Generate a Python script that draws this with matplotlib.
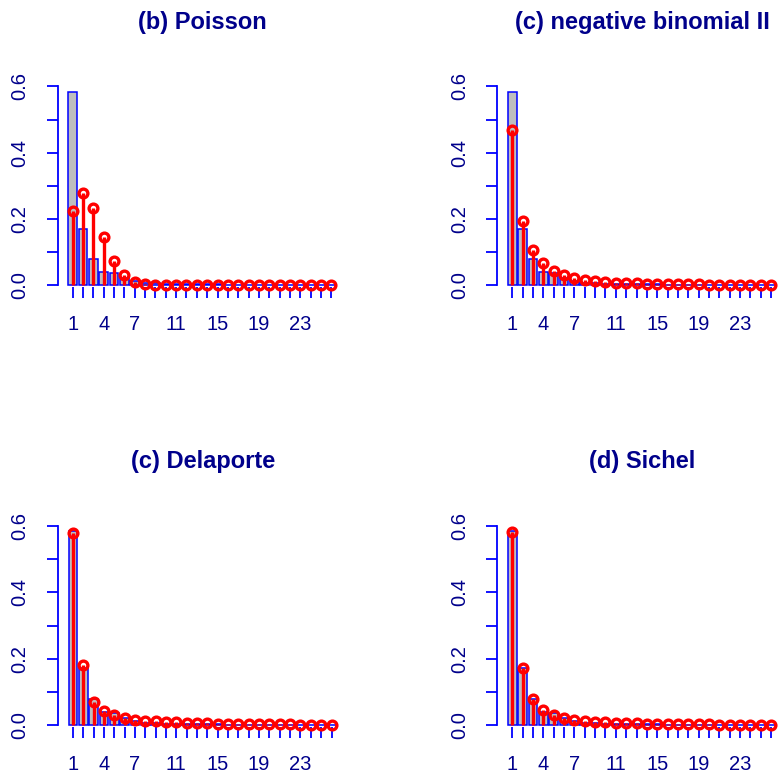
import matplotlib
matplotlib.use("Agg")
import matplotlib.pyplot as plt
import numpy as np

# Observed relative frequencies of the count variable (values 1..26)
counts = list(range(1, 27))
observed = [0.584, 0.171, 0.079, 0.039, 0.036, 0.021, 0.012, 0.008, 0.006, 0.005,
            0.004, 0.004, 0.003, 0.003, 0.003, 0.002, 0.002, 0.002, 0.002, 0.002,
            0.001, 0.001, 0.001, 0.001, 0.001, 0.001]

# Fitted probabilities from each model
fit_poisson = [0.224, 0.279, 0.233, 0.145, 0.072, 0.030, 0.011, 0.004, 0.001, 0.0003,
               0.0001, 0.0, 0.0, 0.0, 0.0, 0.0, 0.0, 0.0, 0.0, 0.0,
               0.0, 0.0, 0.0, 0.0, 0.0, 0.0]
fit_nbii = [0.469, 0.195, 0.107, 0.066, 0.044, 0.030, 0.021, 0.016, 0.012, 0.010,
            0.008, 0.007, 0.006, 0.005, 0.004, 0.004, 0.003, 0.003, 0.003, 0.002,
            0.002, 0.002, 0.002, 0.002, 0.001, 0.001]
fit_delaporte = [0.577, 0.182, 0.071, 0.042, 0.030, 0.022, 0.017, 0.014, 0.012, 0.010,
                 0.009, 0.008, 0.007, 0.006, 0.005, 0.005, 0.004, 0.004, 0.003, 0.003,
                 0.003, 0.003, 0.002, 0.002, 0.002, 0.002]
fit_sichel = [0.580, 0.173, 0.079, 0.046, 0.031, 0.022, 0.017, 0.013, 0.011, 0.009,
              0.008, 0.007, 0.006, 0.005, 0.005, 0.004, 0.004, 0.003, 0.003, 0.003,
              0.002, 0.002, 0.002, 0.002, 0.002, 0.002]

titles = ["(b) Poisson", "(c) negative binomial II", "(c) Delaporte", "(d) Sichel"]
fits = [fit_poisson, fit_nbii, fit_delaporte, fit_sichel]
shown_labels = ["1", "4", "7", "11", "15", "19", "23"]
y_ticks = [0.0, 0.1, 0.2, 0.3, 0.4, 0.5, 0.6]
y_labels = ["0.0", "", "0.2", "", "0.4", "", "0.6"]

plt.rcParams["font.family"] = ["Liberation Sans", "DejaVu Sans"]

W_PX, H_PX = 779, 776
fig = plt.figure(figsize=(W_PX / 100, H_PX / 100), dpi=100)

AXIS_BLUE = "#0000FF"
TEXT_BLUE = "#00008B"
BAR_GREY = "#BEBEBE"

panel_w = 290.5
# (left px, top px, bottom px) of each plotting region
regions = [(57.6, 76.4, 287.0), (497.3, 76.4, 287.0),
           (57.8, 515.7, 727.0), (497.3, 515.7, 727.0)]
title_rows = [22.0, 22.0, 461.5, 461.5]

positions = 0.7 + 1.2 * np.arange(len(counts))

for k in range(4):
    left, top, bottom = regions[k]
    ax = fig.add_axes([left / W_PX, 1 - bottom / H_PX, panel_w / W_PX, (bottom - top) / H_PX])
    ax.bar(positions, observed, width=1.0, color=BAR_GREY, edgecolor=AXIS_BLUE,
           linewidth=1.1, zorder=2)
    ax.vlines(positions, 0, fits[k], color="red", linewidth=2.4, zorder=3)
    ax.plot(positions, fits[k], linestyle="none", marker="o", markersize=6.3,
            markerfacecolor="none", markeredgecolor="red", markeredgewidth=2.4,
            zorder=4, clip_on=False)

    ax.set_xlim(-1.048, 32.648)
    ax.set_ylim(-0.005, 0.63)

    lbls = [str(c) if str(c) in shown_labels else "" for c in counts]
    ax.set_xticks(positions)
    ax.set_xticklabels(lbls)
    ax.set_yticks(y_ticks)
    ax.set_yticklabels(y_labels, rotation=90, va="center")

    for side in ("top", "right", "bottom"):
        ax.spines[side].set_visible(False)
    ax.spines["left"].set_color(AXIS_BLUE)
    ax.spines["left"].set_linewidth(1.3)
    ax.spines["left"].set_bounds(0.0, 0.6)

    ax.tick_params(axis="both", direction="out", length=8.2, width=1.3,
                   color=AXIS_BLUE, labelcolor=TEXT_BLUE, labelsize=14.5)
    ax.tick_params(axis="x", pad=12)
    ax.tick_params(axis="y", pad=12)

    fig.text((left + panel_w / 2) / W_PX, 1 - title_rows[k] / H_PX, titles[k],
             ha="center", va="center", fontsize=17, fontweight="bold", color=TEXT_BLUE)

fig.savefig("out.png", dpi=100)
